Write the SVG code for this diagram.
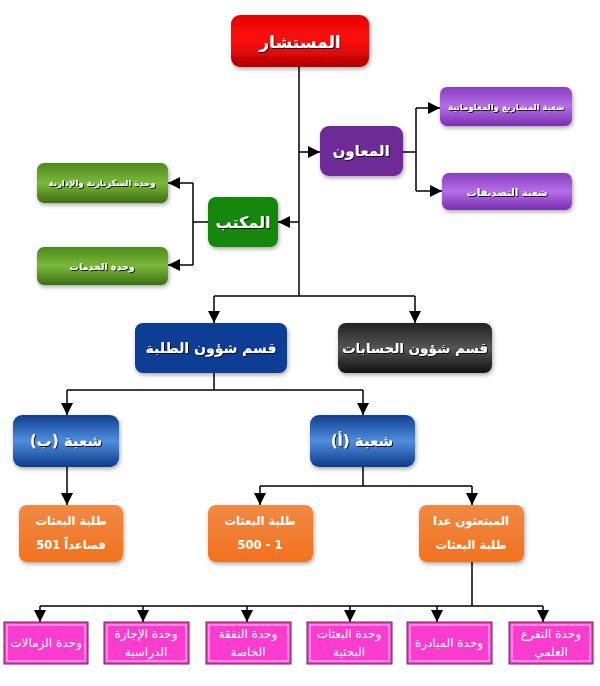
<svg xmlns="http://www.w3.org/2000/svg" width="600" height="686" viewBox="0 0 600 686">
<defs>
<style>
.t{font-family:"DejaVu Sans","Noto Sans",sans-serif;font-weight:bold;fill:#fff;text-anchor:middle;dominant-baseline:central}
.s{filter:url(#ts)}
.p{font-family:"DejaVu Sans","Noto Sans",sans-serif;fill:#fff;text-anchor:middle;dominant-baseline:central;font-size:12px}
.c{fill:none;stroke:#000;stroke-width:1.5}
.a{marker-end:url(#ah)}
.pk{fill:#fc3ccf;stroke:#5e2a4e;stroke-width:1}
.pki{fill:none;stroke:#ffa2ea;stroke-width:1.5}
</style>
<marker id="ah" markerUnits="userSpaceOnUse" markerWidth="12" markerHeight="12" viewBox="0 0 10 10" refX="10" refY="5" orient="auto">
<path d="M0,0 L10,5 L0,10 z" fill="#000"/>
</marker>
<filter id="ts" x="-10%" y="-30%" width="120%" height="160%">
<feDropShadow dx="1" dy="1" stdDeviation="0.6" flood-color="#000" flood-opacity="0.85"/>
</filter>
<filter id="glow" x="-20%" y="-30%" width="140%" height="160%">
<feGaussianBlur in="SourceAlpha" stdDeviation="2"/>
<feOffset dx="1" dy="2" result="b"/>
<feFlood flood-color="#000" flood-opacity="0.35"/>
<feComposite in2="b" operator="in"/>
<feMerge><feMergeNode/><feMergeNode in="SourceGraphic"/></feMerge>
</filter>
<linearGradient id="gRed" x1="0" y1="0" x2="0" y2="1"><stop offset="0" stop-color="#e80000"/><stop offset="0.5" stop-color="#ff1010"/><stop offset="1" stop-color="#b00000"/></linearGradient>
<linearGradient id="gPur" x1="0" y1="0" x2="0" y2="1"><stop offset="0" stop-color="#8a3ec0"/><stop offset="0.5" stop-color="#b56ee6"/><stop offset="1" stop-color="#7a2fb0"/></linearGradient>
<linearGradient id="gGrn" x1="0" y1="0" x2="0" y2="1"><stop offset="0" stop-color="#4c8a1c"/><stop offset="0.5" stop-color="#7ab83a"/><stop offset="1" stop-color="#3b7010"/></linearGradient>
<linearGradient id="gBlk" x1="0" y1="0" x2="0" y2="1"><stop offset="0" stop-color="#222"/><stop offset="0.5" stop-color="#555"/><stop offset="1" stop-color="#111"/></linearGradient>
<linearGradient id="gBlu" x1="0" y1="0" x2="0" y2="1"><stop offset="0" stop-color="#123e8e"/><stop offset="0.5" stop-color="#4f8ede"/><stop offset="1" stop-color="#0e3a8a"/></linearGradient>
<linearGradient id="gOr" x1="0" y1="0" x2="0" y2="1"><stop offset="0" stop-color="#f08a45"/><stop offset="1" stop-color="#f2711e"/></linearGradient>
</defs>
<rect width="600" height="686" fill="#fff"/>

<g id="connectors">
<path class="c" d="M299,67 V296"/>
<path class="c a" d="M299,152 H320"/>
<path class="c a" d="M299,222 H278"/>
<path class="c" d="M403,152 H416 M416,108 V191"/>
<path class="c a" d="M416,108 H440"/>
<path class="c a" d="M416,191 H442"/>
<path class="c" d="M208,222 H193 M193,183 V265"/>
<path class="c a" d="M193,183 H168"/>
<path class="c a" d="M193,265 H168"/>
<path class="c" d="M214,296 H415"/>
<path class="c a" d="M214,296 V323"/>
<path class="c a" d="M415,296 V323"/>
<path class="c" d="M214,373 V390 M67,390 H363"/>
<path class="c a" d="M67,390 V415"/>
<path class="c a" d="M363,390 V415"/>
<path class="c a" d="M67,467 V505"/>
<path class="c" d="M363,467 V486 M260,486 H472"/>
<path class="c a" d="M260,486 V505"/>
<path class="c a" d="M472,486 V505"/>
<path class="c" d="M472,562 V606 M40,606 H543"/>
<path class="c a" d="M40,606 V622"/>
<path class="c a" d="M143,606 V622"/>
<path class="c a" d="M247,606 V622"/>
<path class="c a" d="M350,606 V622"/>
<path class="c a" d="M437,606 V622"/>
<path class="c a" d="M543,606 V622"/>
</g>

<g id="n-mustashar"><rect x="231" y="15" width="138" height="52" rx="9" fill="url(#gRed)" filter="url(#glow)"/><text class="t s" x="300" y="42" font-size="17">المستشار</text></g>
<g id="n-muawin"><rect x="320" y="126" width="83" height="50" rx="9" fill="#6e2c96" filter="url(#glow)"/><text class="t s" x="361" y="151" font-size="15">المعاون</text></g>
<g id="n-mashari"><rect x="440" y="87" width="132" height="39" rx="7" fill="url(#gPur)" filter="url(#glow)"/><text class="t s" x="506" y="107" font-size="8.5">شعبة المشاريع والمعلوماتية</text></g>
<g id="n-tasdiqat"><rect x="442" y="173" width="130" height="37" rx="7" fill="url(#gPur)" filter="url(#glow)"/><text class="t s" x="507" y="192" font-size="10">شعبة التصديقات</text></g>
<g id="n-maktab"><rect x="208" y="197" width="70" height="50" rx="8" fill="#12870f" filter="url(#glow)"/><text class="t s" x="243" y="222" font-size="16">المكتب</text></g>
<g id="n-sikritariya"><rect x="37" y="163" width="131" height="40" rx="7" fill="url(#gGrn)" filter="url(#glow)"/><text class="t s" x="102" y="183" font-size="8.5">وحدة السكرتارية والإدارية</text></g>
<g id="n-khadamat"><rect x="37" y="247" width="131" height="38" rx="7" fill="url(#gGrn)" filter="url(#glow)"/><text class="t s" x="102" y="266" font-size="9.5">وحدة الخدمات</text></g>
<g id="n-talaba"><rect x="135" y="323" width="152" height="50" rx="8" fill="#0c3d94" filter="url(#glow)"/><text class="t s" x="211" y="348" font-size="14">قسم شؤون الطلبة</text></g>
<g id="n-hisabat"><rect x="338" y="323" width="154" height="50" rx="8" fill="url(#gBlk)" filter="url(#glow)"/><text class="t s" x="415" y="348" font-size="13.5">قسم شؤون الحسابات</text></g>
<g id="n-shuba-b"><rect x="13" y="415" width="106" height="52" rx="9" fill="url(#gBlu)" filter="url(#glow)"/><text class="t s" x="66" y="441" font-size="15">شعبة (ب)</text></g>
<g id="n-shuba-a"><rect x="310" y="415" width="105" height="52" rx="9" fill="url(#gBlu)" filter="url(#glow)"/><text class="t s" x="362" y="441" font-size="15">شعبة (أ)</text></g>
<g id="n-b501"><rect x="19" y="505" width="104" height="57" rx="8" fill="url(#gOr)" filter="url(#glow)"/><text class="t" x="71" y="521" font-size="11.5">طلبة البعثات</text><text class="t" x="71" y="545" font-size="11.5">501 فصاعداً</text></g>
<g id="n-a500"><rect x="208" y="505" width="105" height="57" rx="8" fill="url(#gOr)" filter="url(#glow)"/><text class="t" x="260" y="521" font-size="11.5">طلبة البعثات</text><text class="t" x="260" y="545" font-size="11.5">500 - 1</text></g>
<g id="n-mubtaathun"><rect x="419" y="505" width="105" height="57" rx="8" fill="url(#gOr)" filter="url(#glow)"/><text class="t" x="471" y="521" font-size="11.5">المبتعثون عدا</text><text class="t" x="471" y="545" font-size="11.5">طلبة البعثات</text></g>

<g id="n-zamalat"><rect class="pk" x="4" y="622" width="84" height="42"/><rect class="pki" x="7" y="625" width="78" height="36"/><text class="p" x="46" y="643">وحدة الزمالات</text></g>
<g id="n-ijaza"><rect class="pk" x="104" y="622" width="85" height="42"/><rect class="pki" x="107" y="625" width="79" height="36"/><text class="p" x="146" y="634">وحدة الإجازة</text><text class="p" x="146" y="652">الدراسية</text></g>
<g id="n-nafaqa"><rect class="pk" x="206" y="622" width="85" height="42"/><rect class="pki" x="209" y="625" width="79" height="36"/><text class="p" x="248" y="634">وحدة النفقة</text><text class="p" x="248" y="652">الخاصة</text></g>
<g id="n-bahthiya"><rect class="pk" x="307" y="622" width="85" height="42"/><rect class="pki" x="310" y="625" width="79" height="36"/><text class="p" x="349" y="634">وحدة البعثات</text><text class="p" x="349" y="652">البحثية</text></g>
<g id="n-mubadara"><rect class="pk" x="407" y="622" width="85" height="42"/><rect class="pki" x="410" y="625" width="79" height="36"/><text class="p" x="449" y="643">وحدة المبادرة</text></g>
<g id="n-tafarrugh"><rect class="pk" x="509" y="622" width="84" height="42"/><rect class="pki" x="512" y="625" width="78" height="36"/><text class="p" x="551" y="634">وحدة التفرغ</text><text class="p" x="551" y="652">العلمي</text></g>
</svg>
